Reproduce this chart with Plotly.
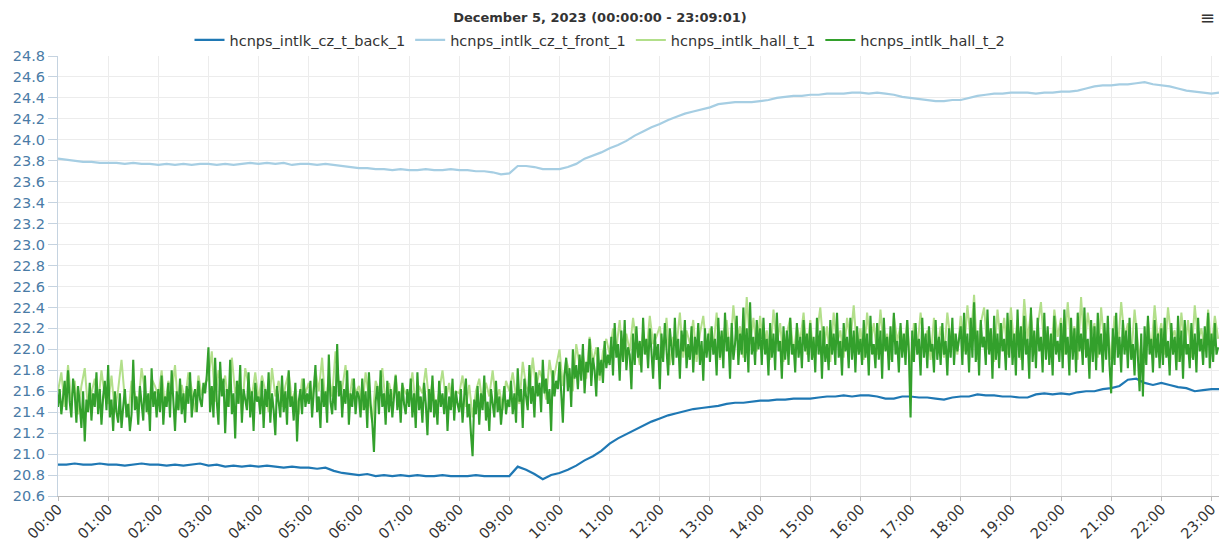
import numpy as np
import pandas as pd
import plotly.graph_objects as go

# ---- data ----
series_names = ["hcnps_intlk_cz_t_back_1", "hcnps_intlk_cz_t_front_1",
                "hcnps_intlk_hall_t_1", "hcnps_intlk_hall_t_2"]
title_text = "December 5, 2023 (00:00:00 - 23:09:01)"
day = "2023-12-05"

# slow sensors: one value every 10 minutes, last one at 23:09
slow_minutes = list(range(0, 1381, 10)) + [1389]

back_1 = [
    20.90, 20.90, 20.91, 20.90, 20.90, 20.91,
    20.90, 20.90, 20.89, 20.90, 20.91, 20.90,
    20.90, 20.89, 20.90, 20.89, 20.90, 20.91,
    20.89, 20.90, 20.88, 20.89, 20.88, 20.89,
    20.88, 20.89, 20.88, 20.87, 20.88, 20.87,
    20.87, 20.86, 20.87, 20.84, 20.82, 20.81,
    20.80, 20.81, 20.79, 20.80, 20.79, 20.80,
    20.79, 20.80, 20.79, 20.79, 20.80, 20.79,
    20.79, 20.79, 20.80, 20.79, 20.79, 20.79,
    20.79, 20.88, 20.85, 20.81, 20.76, 20.80,
    20.82, 20.85, 20.89, 20.94, 20.98, 21.03,
    21.10, 21.15, 21.19, 21.23, 21.27, 21.31,
    21.34, 21.37, 21.39, 21.41, 21.43, 21.44,
    21.45, 21.46, 21.48, 21.49, 21.49, 21.50,
    21.51, 21.51, 21.52, 21.52, 21.53, 21.53,
    21.53, 21.54, 21.55, 21.55, 21.56, 21.55,
    21.56, 21.56, 21.55, 21.53, 21.53, 21.55,
    21.55, 21.54, 21.54, 21.53, 21.52, 21.54,
    21.55, 21.55, 21.57, 21.56, 21.56, 21.55,
    21.55, 21.54, 21.54, 21.57, 21.58, 21.57,
    21.58, 21.57, 21.59, 21.60, 21.60, 21.62,
    21.63, 21.65, 21.71, 21.72, 21.68, 21.66,
    21.68, 21.66, 21.64, 21.63, 21.60, 21.61,
    21.62, 21.62,
]

front_1 = [
    23.82, 23.81, 23.80, 23.79, 23.79, 23.78,
    23.78, 23.78, 23.77, 23.78, 23.77, 23.77,
    23.76, 23.77, 23.76, 23.77, 23.76, 23.77,
    23.77, 23.76, 23.77, 23.76, 23.77, 23.78,
    23.77, 23.78, 23.77, 23.78, 23.76, 23.77,
    23.77, 23.76, 23.77, 23.76, 23.75, 23.74,
    23.73, 23.73, 23.72, 23.72, 23.71, 23.72,
    23.71, 23.71, 23.72, 23.71, 23.71, 23.72,
    23.71, 23.71, 23.70, 23.70, 23.69, 23.67,
    23.68, 23.75, 23.75, 23.74, 23.72, 23.72,
    23.72, 23.74, 23.77, 23.82, 23.85, 23.88,
    23.92, 23.95, 23.99, 24.04, 24.08, 24.12,
    24.15, 24.19, 24.22, 24.25, 24.27, 24.29,
    24.31, 24.34, 24.35, 24.36, 24.36, 24.36,
    24.37, 24.38, 24.40, 24.41, 24.42, 24.42,
    24.43, 24.43, 24.44, 24.44, 24.44, 24.45,
    24.45, 24.44, 24.45, 24.44, 24.43, 24.41,
    24.40, 24.39, 24.38, 24.37, 24.37, 24.38,
    24.38, 24.40, 24.42, 24.43, 24.44, 24.44,
    24.45, 24.45, 24.45, 24.44, 24.45, 24.45,
    24.46, 24.46, 24.47, 24.49, 24.51, 24.52,
    24.52, 24.53, 24.53, 24.54, 24.55, 24.53,
    24.52, 24.51, 24.49, 24.47, 24.46, 24.45,
    24.44, 24.45,
]

# hall_t_1: one value every 4 minutes (00:00 ... 23:08)
hall_t_1_step_min = 4
hall_t_1 = [
    21.60, 21.78, 21.45, 21.85, 21.50, 21.70, 21.38, 21.65, 21.82, 21.42, 21.58, 21.72, 21.48, 21.80, 21.55,
    21.48, 21.75, 21.40, 21.62, 21.90, 21.52, 21.35, 21.70, 21.58, 21.45, 21.82, 21.60, 21.38, 21.72, 21.65,
    21.55, 21.80, 21.45, 21.70, 21.58, 21.85, 21.42, 21.66, 21.50, 21.78, 21.62, 21.40, 21.75, 21.56, 21.68,
    21.72, 21.98, 21.50, 21.80, 21.62, 21.75, 21.45, 21.92, 21.58, 21.70, 21.38, 21.82, 21.66, 21.55, 21.78,
    21.52, 21.75, 21.60, 21.40, 21.82, 21.55, 21.70, 21.45, 21.65, 21.78, 21.50, 21.62, 21.38, 21.72, 21.58,
    21.68, 21.50, 21.80, 21.60, 21.92, 21.45, 21.75, 21.55, 21.98, 21.70, 21.62, 21.85, 21.48, 21.72, 21.58,
    21.65, 21.42, 21.78, 21.55, 21.30, 21.70, 21.60, 21.82, 21.48, 21.68, 21.52, 21.76, 21.45, 21.66, 21.58,
    21.55, 21.78, 21.45, 21.65, 21.58, 21.82, 21.50, 21.70, 21.40, 21.62, 21.80, 21.52, 21.68, 21.45, 21.60,
    21.58, 21.75, 21.45, 21.66, 21.35, 21.60, 21.72, 21.48, 21.68, 21.55, 21.80, 21.50, 21.62, 21.42, 21.70,
    21.60, 21.78, 21.55, 21.48, 21.88, 21.65, 21.58, 21.92, 21.62, 21.80, 21.70, 21.52, 21.90, 21.68, 21.85,
    22.00, 21.65, 21.90, 21.78, 21.60, 22.05, 21.85, 21.95, 21.72, 22.12, 21.88, 22.02, 21.70, 21.98, 22.10,
    21.95, 22.20, 22.00, 22.28, 21.88, 22.15, 21.98, 22.30, 22.05, 21.85, 22.18, 21.95, 22.32, 22.05, 22.12,
    22.22, 21.95, 22.30, 21.85, 22.12, 22.02, 22.35, 21.92, 22.18, 22.05, 22.28, 21.88, 22.15, 22.32, 22.00,
    22.20, 22.00, 22.35, 21.90, 22.15, 22.28, 21.95, 22.42, 22.08, 22.22, 21.92, 22.50, 22.05, 22.30, 21.98,
    22.32, 22.00, 22.18, 21.90, 22.38, 22.05, 22.25, 21.88, 22.15, 22.30, 21.95, 22.22, 22.08, 22.35, 21.95,
    22.28, 21.92, 22.15, 22.40, 22.00, 22.22, 21.88, 22.35, 22.05, 22.18, 21.92, 22.30, 22.08, 22.42, 21.98,
    22.20, 21.90, 22.35, 22.05, 22.25, 21.95, 22.38, 22.00, 22.15, 21.90, 22.32, 22.08, 22.22, 21.98, 22.28,
    21.80, 22.25, 22.00, 22.35, 22.05, 22.18, 21.90, 22.30, 22.00, 22.22, 21.92, 22.35, 22.08, 22.15, 21.95,
    22.32, 21.98, 22.42, 22.08, 22.52, 21.90, 22.25, 22.40, 22.00, 22.20, 21.88, 22.38, 22.05, 22.30, 21.95,
    22.40, 22.02, 22.28, 21.90, 22.48, 22.10, 22.35, 21.95, 22.22, 22.45, 22.00, 22.18, 21.92, 22.38, 22.12,
    22.30, 21.95, 22.45, 22.05, 22.22, 21.90, 22.50, 22.00, 22.35, 22.12, 22.25, 21.92, 22.40, 22.02, 22.18,
    21.90, 22.32, 22.00, 22.45, 22.10, 22.25, 21.92, 22.38, 22.05, 21.85, 21.88, 22.28, 21.98, 22.42, 22.08,
    22.25, 21.95, 22.40, 22.10, 22.18, 21.88, 22.35, 22.02, 22.28, 21.92, 22.42, 22.08, 22.20, 21.98, 22.38,
    22.00, 22.32, 22.10,
]

# hall_t_2: one value every 2 minutes (00:00 ... 23:08)
hall_t_2_step_min = 2
hall_t_2 = [
    21.45, 21.62, 21.38, 21.55, 21.70, 21.42, 21.80, 21.50, 21.35, 21.72, 21.58, 21.30, 21.65, 21.48, 21.25,
    21.60, 21.12, 21.52, 21.40, 21.68, 21.32, 21.58, 21.45, 21.78, 21.38, 21.62, 21.28, 21.55, 21.70, 21.42,
    21.85, 21.35, 21.52, 21.22, 21.60, 21.40, 21.30, 21.58, 21.25, 21.45, 21.62, 21.35, 21.48, 21.22, 21.38,
    21.90, 21.42, 21.55, 21.28, 21.65, 21.48, 21.32, 21.75, 21.40, 21.58, 21.22, 21.82, 21.45, 21.60, 21.35,
    21.62, 21.40, 21.75, 21.28, 21.55, 21.45, 21.68, 21.35, 21.80, 21.50, 21.22, 21.60, 21.42, 21.72, 21.38,
    21.58, 21.30, 21.65, 21.48, 21.78, 21.35, 21.55, 21.62, 21.40, 21.70, 21.52, 21.45, 21.68, 21.58, 21.75,
    22.02, 21.40, 21.65, 21.35, 21.92, 21.50, 21.28, 21.88, 21.55, 21.72, 21.20, 21.62, 21.45, 21.90, 21.38,
    21.58, 21.15, 21.70, 21.48, 21.85, 21.30, 21.62, 21.52, 21.42, 21.78, 21.35, 21.60, 21.22, 21.68, 21.50,
    21.55, 21.38, 21.70, 21.25, 21.62, 21.45, 21.78, 21.30, 21.58, 21.42, 21.18, 21.65, 21.50, 21.35, 21.75,
    21.40, 21.60, 21.28, 21.80, 21.45, 21.55, 21.32, 21.68, 21.12, 21.50, 21.62, 21.38, 21.72, 21.45, 21.58,
    21.48, 21.70, 21.35, 21.62, 21.85, 21.40, 21.55, 21.25, 21.72, 21.45, 21.60, 21.30, 21.95, 21.50, 21.38,
    21.65, 21.42, 22.05, 21.55, 21.70, 21.35, 21.62, 21.48, 21.80, 21.28, 21.58, 21.45, 21.72, 21.38, 21.60,
    21.55, 21.35, 21.72, 21.42, 21.60, 21.25, 21.78, 21.48, 21.30, 21.02, 21.50, 21.65, 21.38, 21.80, 21.45,
    21.58, 21.28, 21.70, 21.40, 21.62, 21.35, 21.55, 21.75, 21.42, 21.60, 21.30, 21.68, 21.48, 21.38, 21.62,
    21.45, 21.72, 21.35, 21.58, 21.25, 21.78, 21.42, 21.55, 21.30, 21.68, 21.48, 21.18, 21.62, 21.40, 21.75,
    21.35, 21.52, 21.28, 21.70, 21.45, 21.58, 21.38, 21.65, 21.22, 21.55, 21.42, 21.72, 21.32, 21.60, 21.48,
    21.40, 21.62, 21.30, 21.55, 21.72, 21.35, 21.48, 21.20, 20.98, 21.52, 21.38, 21.65, 21.28, 21.58, 21.42,
    21.75, 21.32, 21.50, 21.22, 21.62, 21.45, 21.35, 21.70, 21.40, 21.55, 21.28, 21.48, 21.65, 21.38, 21.52,
    21.45, 21.70, 21.38, 21.58, 21.30, 21.82, 21.50, 21.62, 21.25, 21.72, 21.55, 21.42, 21.85, 21.48, 21.65,
    21.35, 21.78, 21.55, 21.68, 21.40, 21.90, 21.58, 21.72, 21.48, 21.62, 21.22, 21.80, 21.55, 21.70, 21.62,
    21.88, 21.55, 21.30, 21.75, 21.92, 21.60, 21.82, 21.45, 22.00, 21.72, 21.85, 21.62, 21.95, 21.70, 22.05,
    21.58, 21.88, 21.78, 22.10, 21.65, 21.92, 21.80, 21.55, 22.02, 21.75, 21.90, 21.68, 22.08, 21.82, 21.95,
    21.85, 22.12, 21.75, 22.25, 21.92, 22.05, 21.70, 22.18, 21.88, 22.28, 21.80, 22.02, 21.95, 21.62, 22.15,
    21.85, 22.22, 21.92, 22.08, 21.78, 22.30, 21.95, 22.10, 21.82, 22.20, 21.98, 21.72, 22.15, 21.90, 22.05,
    21.62, 22.15, 21.88, 22.25, 21.95, 21.75, 22.20, 22.02, 21.85, 22.30, 21.92, 22.10, 21.72, 22.18, 21.98,
    22.28, 21.82, 22.05, 21.90, 22.22, 21.78, 22.12, 21.95, 22.25, 21.85, 22.08, 21.70, 22.20, 21.92, 22.15,
    21.88, 22.22, 21.95, 22.10, 21.75, 22.30, 21.92, 22.18, 21.82, 22.35, 21.98, 22.12, 21.72, 22.25, 21.90,
    22.05, 22.32, 21.85, 22.15, 21.95, 22.40, 21.88, 22.20, 21.78, 22.45, 21.95, 22.12, 21.85, 22.28, 22.00,
    22.20, 21.85, 22.30, 21.95, 22.10, 21.75, 22.25, 21.92, 22.15, 21.80, 22.35, 21.98, 22.08, 21.72, 22.22,
    21.90, 22.18, 21.85, 22.30, 21.95, 22.05, 21.78, 22.25, 21.92, 22.12, 21.82, 22.28, 21.98, 22.15, 21.88,
    22.25, 21.90, 22.12, 21.78, 22.30, 21.95, 22.18, 21.72, 22.22, 21.88, 22.05, 21.80, 22.28, 21.95, 22.15,
    21.85, 22.35, 21.92, 22.08, 21.75, 22.25, 21.98, 22.12, 21.82, 22.30, 21.90, 22.18, 21.78, 22.22, 21.95,
    22.10, 21.85, 22.28, 21.92, 22.15, 21.75, 22.32, 21.95, 22.05, 21.82, 22.25, 21.90, 22.18, 21.72, 22.30,
    21.98, 22.12, 21.80, 22.22, 21.88, 22.35, 21.95, 22.08, 21.78, 22.25, 21.92, 22.15, 21.85, 22.28, 21.95,
    21.35, 22.18, 21.88, 22.25, 21.95, 22.10, 21.75, 22.30, 21.92, 22.15, 21.82, 22.22, 21.98, 22.05, 21.78,
    22.28, 21.90, 22.12, 21.85, 22.25, 21.95, 22.08, 21.75, 22.20, 21.92, 22.30, 21.85, 22.15, 21.98, 22.10,
    22.22, 21.85, 22.35, 21.95, 22.15, 21.78, 22.30, 21.92, 22.45, 21.88, 22.18, 21.75, 22.28, 22.02, 22.12,
    21.85, 22.38, 21.95, 22.20, 21.72, 22.32, 21.90, 22.15, 21.82, 22.25, 21.98, 22.10, 21.80, 22.35, 21.92,
    22.28, 21.85, 22.15, 21.75, 22.38, 21.92, 22.22, 21.80, 22.32, 21.95, 22.10, 21.72, 22.40, 21.88, 22.18,
    21.82, 22.30, 21.98, 22.12, 21.78, 22.35, 21.90, 22.22, 21.85, 22.15, 21.75, 22.32, 21.95, 22.08, 21.88,
    22.25, 21.82, 22.38, 21.95, 22.12, 21.75, 22.30, 21.90, 22.20, 21.78, 22.35, 21.98, 22.15, 21.85, 22.40,
    21.92, 22.10, 21.72, 22.28, 21.88, 22.22, 21.80, 22.35, 21.95, 22.15, 21.78, 22.25, 21.90, 22.32, 21.85,
    21.58, 22.20, 21.85, 22.35, 21.92, 22.12, 21.78, 22.28, 21.95, 22.18, 21.82, 22.30, 21.90, 22.05, 21.75,
    22.25, 21.88, 21.60, 22.15, 21.55, 22.22, 21.85, 22.32, 21.95, 22.10, 21.78, 22.28, 21.92, 22.15, 21.82,
    22.20, 21.85, 22.30, 21.92, 22.08, 21.75, 22.25, 21.95, 22.12, 21.80, 22.32, 21.88, 22.18, 21.72, 22.28,
    21.95, 22.05, 21.82, 22.25, 21.90, 22.15, 21.78, 22.30, 21.98, 22.10, 21.85, 22.22, 21.92, 22.35, 21.82,
    22.15, 21.88, 22.25, 21.95, 22.02,
]

y_ticks = [round(20.6 + 0.2 * i, 1) for i in range(22)]

# ---- build ----
base = pd.Timestamp(day)
slow_x = base + pd.to_timedelta(slow_minutes, unit="min")
hall1_x = base + pd.to_timedelta(np.arange(len(hall_t_1)) * hall_t_1_step_min, unit="min")
hall2_x = base + pd.to_timedelta(np.arange(len(hall_t_2)) * hall_t_2_step_min, unit="min")

colors = ["#1f78b4", "#a6cee3", "#b2df8a", "#33a02c"]
font_family = "DejaVu Sans"

fig = go.Figure()
fig.add_trace(go.Scatter(x=slow_x, y=back_1, name=series_names[0], mode="lines",
                         line=dict(color=colors[0], width=2.2)))
fig.add_trace(go.Scatter(x=slow_x, y=front_1, name=series_names[1], mode="lines",
                         line=dict(color=colors[1], width=2.2)))
fig.add_trace(go.Scatter(x=hall1_x, y=hall_t_1, name=series_names[2], mode="lines",
                         line=dict(color=colors[2], width=2)))
fig.add_trace(go.Scatter(x=hall2_x, y=hall_t_2, name=series_names[3], mode="lines",
                         line=dict(color=colors[3], width=2.1)))

fig.update_layout(
    width=1219, height=544,
    margin=dict(l=58, r=0, t=56, b=48, autoexpand=False),
    paper_bgcolor="white", plot_bgcolor="white",
    font=dict(family=font_family, size=13, color="#333333"),
    title=dict(text="<b>" + title_text + "</b>", x=600 / 1219, xanchor="center",
               y=1 - 17 / 544, yanchor="middle", font=dict(size=13, color="#333333")),
    legend=dict(orientation="h", x=(600 - 58) / 1161, xanchor="center",
                y=1 + 16 / 440, yanchor="middle",
                font=dict(size=14.5, color="#333333"), itemwidth=30,
                bgcolor="rgba(0,0,0,0)"),
    showlegend=True,
)
fig.update_xaxes(
    type="date", automargin=False,
    range=[base, base + pd.Timedelta("23:09:01")],
    dtick=3600000, tickformat="%H:%M", tickangle=-45,
    tickfont=dict(size=14.5, color="#333333"),
    ticklabeloverflow="allow", ticklabelstandoff=-6,
    showgrid=True, gridcolor="#ececec", gridwidth=1,
    showline=True, linecolor="#bbbbbb", linewidth=1,
    ticks="outside", ticklen=4, tickcolor="#bbbbbb",
    zeroline=False,
)
fig.update_yaxes(
    automargin=False,
    range=[20.6, 24.8], tickvals=y_ticks, tickformat=".1f",
    tickfont=dict(size=14.5, color="#4a7ba6"),
    showgrid=True, gridcolor="#ececec", gridwidth=1,
    showline=True, linecolor="#c5d3e0", linewidth=1,
    ticks="outside", ticklen=9, tickcolor="#c5d3e0",
    zeroline=False,
)
fig.add_annotation(text="≡", xref="paper", yref="paper", x=1.0, y=1.0,
                   xanchor="right", yanchor="middle", yshift=39, xshift=-2,
                   showarrow=False, font=dict(size=18, color="#333333"))

# remove the page's default 8px body margin so the figure fills the window exactly
fig.write_html("out.html", config={"displayModeBar": False},
               post_script="document.body.style.margin='0';")
